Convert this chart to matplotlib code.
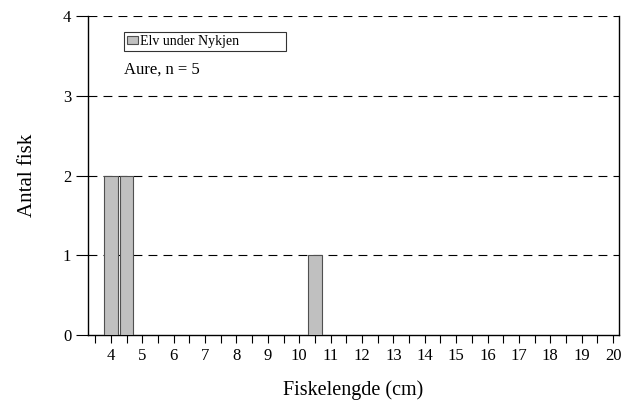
import matplotlib

matplotlib.use("Agg")
import matplotlib.pyplot as plt
from matplotlib.patches import Patch

plt.rcParams["font.family"] = ["Liberation Serif", "DejaVu Serif"]

# length classes (cm) and number of fish
lengths = [4.0, 4.5, 10.5]
counts = [2, 2, 1]
tick_labels = [str(v) for v in range(4, 21)]
series_name = "Elv under Nykjen"
note = "Aure, n = 5"

fig = plt.figure(figsize=(6.26, 4.01), dpi=100)
ax = fig.add_axes([88 / 626, 1 - 335 / 401, (619 - 88) / 626, (335 - 16) / 401])

ax.bar(lengths, counts, width=0.43, color="#c0c0c0", edgecolor="#505050", linewidth=0.8, zorder=3)

ax.set_xlim(3.27, 20.19)
ax.set_ylim(0, 4)
ax.set_yticks([0, 1, 2, 3, 4])
ax.set_xticks(range(4, 21))
ax.set_xticklabels(tick_labels)
ax.set_xticks([v + 0.5 for v in range(3, 20)], minor=True)
ax.tick_params(axis="x", which="both", direction="out", length=6, width=0.8, labelsize=12, pad=3)
ax.tick_params(axis="y", direction="out", length=9, width=0.8, labelsize=12, pad=3)

for y in [1, 2, 3, 4]:
    ax.axhline(y, color="black", linestyle=(0, (8, 5.5)), linewidth=0.8, zorder=1)

ax.spines["top"].set_visible(False)
for side in ["left", "right", "bottom"]:
    ax.spines[side].set_linewidth(1.0)

ax.set_xlabel("Fiskelengde (cm)", fontsize=14.5, labelpad=12)
ax.set_ylabel("Antal fisk", fontsize=15, labelpad=19)

# legend box spans a fixed width, like the original
x0 = (124 - 88) / 531
y0 = (335 - 51) / 319
leg = ax.legend(
    [Patch(facecolor="#c0c0c0", edgecolor="#505050", linewidth=0.8)],
    [series_name],
    loc="lower left",
    bbox_to_anchor=(x0, y0, (286 - 124) / 531, 19 / 319),
    mode="expand",
    frameon=True,
    fancybox=False,
    fontsize=10,
    handlelength=0.8,
    handleheight=0.5,
    handletextpad=0.15,
    borderpad=0.2,
    borderaxespad=0,
)
leg.get_frame().set_edgecolor("black")
leg.get_frame().set_linewidth(0.8)

ax.text(x0, (335 - 70) / 319, note, transform=ax.transAxes, fontsize=12, va="center", ha="left")

fig.savefig("out.png", dpi=100)
